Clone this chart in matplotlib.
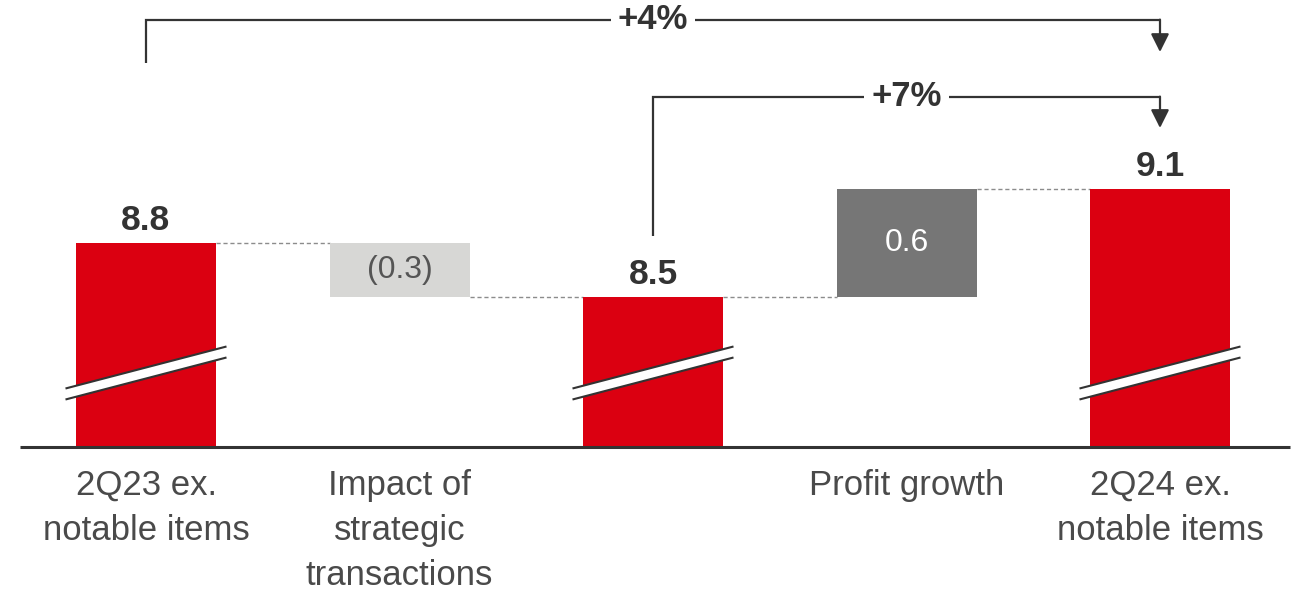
import matplotlib
matplotlib.use("Agg")
import matplotlib.pyplot as plt
from matplotlib.patches import Polygon

# ---- data ----
categories = ["2Q23 ex.\nnotable items", "Impact of\nstrategic\ntransactions", "",
              "Profit growth", "2Q24 ex.\nnotable items"]
values = [8.8, -0.3, 8.5, 0.6, 9.1]
kinds = ["total", "delta", "total", "delta", "total"]
value_labels = ["8.8", "(0.3)", "8.5", "0.6", "9.1"]
growth_labels = ["+4%", "+7%"]
growth_pairs = [(0, 4), (2, 4)]

# ---- style ----
RED = "#DB0011"
LIGHT = "#D7D7D5"
DARK = "#767676"
TXT = "#333333"
LBL = "#4a4a4a"
FONT = ["Liberation Sans", "DejaVu Sans"]
plt.rcParams["font.family"] = FONT

W, H = 1293, 591
fig = plt.figure(figsize=(W / 100, H / 100), dpi=100)
ax = fig.add_axes([0, 0, 1, 1])
ax.axis("off")

PX = 180.0          # pixels per value unit
base = 7.6667       # value at the (broken) axis baseline
xstep = 253.5       # pixels between categories
x0px = 146
ax.set_ylim(base - 144 / PX, base + 447 / PX)
ax.set_xlim(-x0px / xstep, (W - x0px) / xstep)
bw = 140 / xstep

# ---- bars ----
running = 0.0
tops, bottoms, ends = [], [], []
for i, (v, k) in enumerate(zip(values, kinds)):
    if k == "total":
        b, t = base, v
        running = v
        color = RED
    else:
        prev = running
        running = prev + v
        b, t = min(prev, running), max(prev, running)
        color = LIGHT if v < 0 else DARK
    ax.bar(i, t - b, bottom=b, width=bw, color=color, linewidth=0, zorder=2)
    tops.append(t); bottoms.append(b); ends.append(running)

# ---- connectors ----
for i in range(len(values) - 1):
    ax.plot([i + bw / 2, i + 1 - bw / 2], [ends[i], ends[i]], color="#8c8c8c",
            lw=1.0, linestyle=(0, (3, 2)), zorder=1)

# ---- baseline ----
ax.plot([(20 - x0px) / xstep, (1290 - x0px) / xstep], [base, base],
        color="#333333", lw=2.2, solid_capstyle="butt", zorder=3)

# ---- break marks ----
hw = 80.5 / xstep
yc = base + 74 / PX
s = 21 / PX
g = 5.5 / PX
for i, k in enumerate(kinds):
    if k != "total":
        continue
    poly = Polygon([(i - hw, yc - s - g), (i + hw, yc + s - g),
                    (i + hw, yc + s + g), (i - hw, yc - s + g)],
                   closed=True, facecolor="white", edgecolor="none", zorder=4)
    ax.add_patch(poly)
    for sign in (-1, 1):
        ax.plot([i - hw, i + hw], [yc - s + sign * g, yc + s + sign * g],
                color="#333333", lw=1.5, solid_capstyle="butt", zorder=5)

# ---- value labels ----
for i, (lab, k) in enumerate(zip(value_labels, kinds)):
    if k == "total":
        ax.text(i, tops[i] + 13 / PX, lab, ha="center", va="baseline",
                fontsize=25.5, fontweight="bold", color=TXT, zorder=6)
    else:
        ax.text(i, (tops[i] + bottoms[i]) / 2, lab, ha="center", va="center",
                fontsize=23, fontweight="normal",
                color="#555555" if values[i] < 0 else "white", zorder=6)

# ---- category labels ----
for i, c in enumerate(categories):
    ax.text(i, base - 22 / PX, c, ha="center", va="top", fontsize=25,
            fontweight="normal", color=LBL, linespacing=1.46)

# ---- growth brackets ----
start_off = [1.0, 0.339]
top_lvl = [base + 427 / PX, base + 350 / PX]
tip_off = [0.761, 0.339]
for (a, b), lab, so, tl, to in zip(growth_pairs, growth_labels, start_off, top_lvl, tip_off):
    ax.plot([a, a, b], [values[a] + so, tl, tl], color=TXT, lw=1.6,
            solid_joinstyle="miter", solid_capstyle="butt", zorder=3)
    ax.annotate("", xy=(b, values[b] + to), xytext=(b, tl + 0.4 / PX),
                arrowprops=dict(arrowstyle="-|>,head_length=1.1,head_width=0.55",
                                mutation_scale=10, lw=1.6, color=TXT,
                                shrinkA=0, shrinkB=0), zorder=3)
    ax.text((a + b) / 2, tl, lab, ha="center", va="center", fontsize=25,
            fontweight="bold", color=TXT, zorder=6,
            bbox=dict(boxstyle="square,pad=0.2", facecolor="white", edgecolor="none"))

fig.savefig("out.png", dpi=100, facecolor="white")
